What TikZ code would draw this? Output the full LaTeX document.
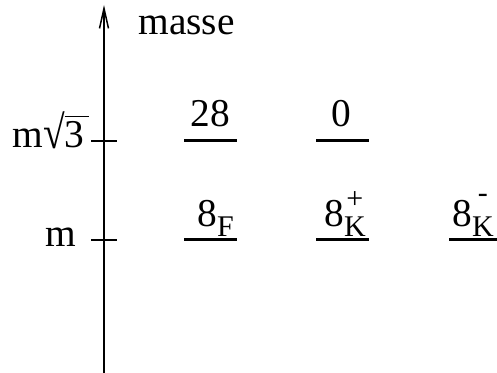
\documentclass[tikz,border=0pt]{standalone}
\usepackage{fontspec}
\setmainfont{Liberation Serif}
\usepackage{graphicx}
\usetikzlibrary{arrows.meta,positioning}

\newsavebox\indbox
% 8 avec indice et exposant empiles
\newcommand{\etat}[3]{8\sbox\indbox{\fontsize{15}{17}\selectfont #1}%
  \rlap{\raisebox{#3}{\makebox[\wd\indbox]{\fontsize{15}{17}\selectfont #2}}}%
  \raisebox{-5pt}{\usebox\indbox}}
\newcommand{\racine}{m\raisebox{-0.3pt}{\scalebox{1}[1.18]{\char"221A}}%
  \rlap{\rule[15.3pt]{12pt}{0.6pt}}3}

\begin{document}
\begin{tikzpicture}[
  x=0.5pt, y=-0.5pt,
  font=\fontsize{19.7}{23}\selectfont,
  axisline/.style={line width=0.75pt, -{Straight Barb[length=10pt,width=4.5pt]}},
  tickline/.style={line width=0.75pt},
  levelline/.style={line width=1.5pt},
  lab/.style={inner sep=0pt}
]
\useasboundingbox (0,0) rectangle (497,373);

% axe des masses
\coordinate (ax0) at (104,373);
\coordinate (ax1) at (104,5);
\draw[axisline] (ax0) -- (ax1);
\node[lab, anchor=base west] (masse) at (138,35) {masse};

% graduations
\coordinate (tA1) at (91,141);  \coordinate (tA2) at (117,141);
\coordinate (tB1) at (91,240);  \coordinate (tB2) at (117,240);
\draw[tickline] (tA1) -- (tA2);
\draw[tickline] (tB1) -- (tB2);
\node[lab, anchor=base west] (msq) at (12,148) {\racine};
\node[lab, anchor=base east] (mlab) at (77,247) {m};

% niveaux
\coordinate (a1) at (184,141); \coordinate (a2) at (237,141);
\coordinate (b1) at (316,141); \coordinate (b2) at (369,141);
\coordinate (c1) at (184,240); \coordinate (c2) at (237,240);
\coordinate (d1) at (316,240); \coordinate (d2) at (369,240);
\coordinate (e1) at (449,240); \coordinate (e2) at (497,240);
\foreach \p in {a,b,c,d,e}
  \draw[levelline] (\p1) -- (\p2);

\node[lab, anchor=base] (l28) at (210,127) {28};
\node[lab, anchor=base] (l0) at (341,127) {0};
\node[lab, anchor=base west] (l8F) at (197,227) {\etat{F}{}{0pt}};
\node[lab, anchor=base west] (l8Kp) at (324,227) {\etat{K}{+}{9pt}};
\node[lab, anchor=base west] (l8Km) at (452,227) {\etat{K}{-}{12pt}};
\end{tikzpicture}
\end{document}
